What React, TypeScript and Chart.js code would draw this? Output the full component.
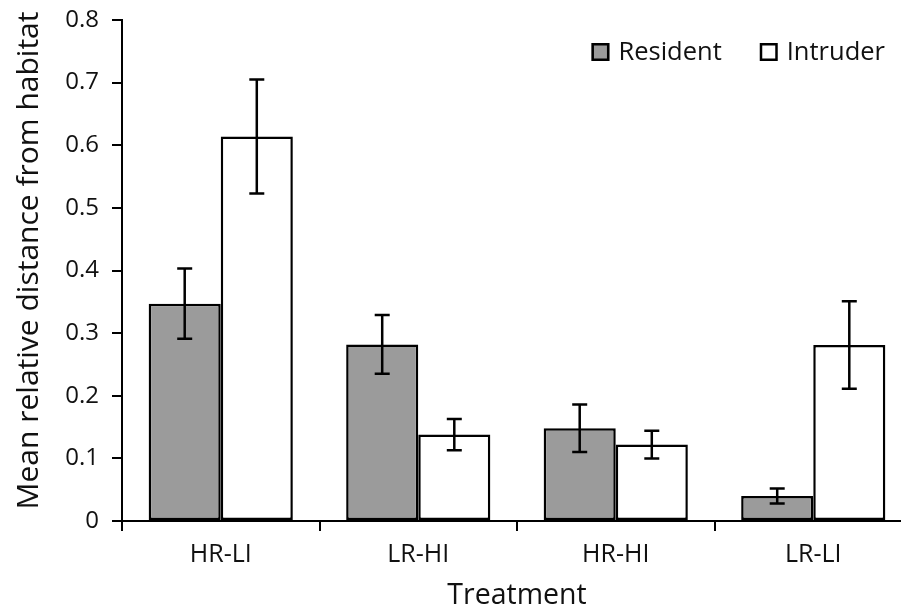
import React, { useEffect, useRef } from "react";
import { Chart, registerables } from "chart.js";

Chart.register(...registerables);

// Treatment groups along the x axis
const categories = ["HR-LI", "LR-HI", "HR-HI", "LR-LI"];

// Mean relative distance from habitat
const residentMeans = [0.347, 0.282, 0.148, 0.04];
const intruderMeans = [0.614, 0.138, 0.122, 0.281];

// Standard errors drawn as whiskers
const residentErrors = [0.056, 0.047, 0.038, 0.012];
const intruderErrors = [0.091, 0.025, 0.022, 0.07];

// Y axis range and step
const yMin = 0;
const yMax = 0.8;
const yStep = 0.1;

const yTitle = "Mean relative distance from habitat";
const xTitle = "Treatment";

const FONT = "'Open Sans', 'DejaVu Sans', sans-serif";
const TEXT = "#111111";

const errorBarPlugin = {
  id: "errorBars",
  afterDatasetsDraw(chart: any) {
    const { ctx } = chart;
    const yScale = chart.scales.y;
    chart.data.datasets.forEach((ds: any, di: number) => {
      const meta = chart.getDatasetMeta(di);
      const errs: number[] = ds.errors || [];
      meta.data.forEach((el: any, i: number) => {
        const v = ds.data[i];
        const e = errs[i];
        if (e == null) return;
        const x = el.x;
        const yTop = yScale.getPixelForValue(v + e);
        const yBot = yScale.getPixelForValue(v - e);
        const cap = 7.5;
        ctx.save();
        ctx.strokeStyle = "#000";
        ctx.lineWidth = 2.5;
        ctx.beginPath();
        ctx.moveTo(x, yTop);
        ctx.lineTo(x, yBot);
        ctx.moveTo(x - cap, yTop);
        ctx.lineTo(x + cap, yTop);
        ctx.moveTo(x - cap, yBot);
        ctx.lineTo(x + cap, yBot);
        ctx.stroke();
        ctx.restore();
      });
    });
  },
};

// Rotated y-axis title, placed a little above the plot's vertical centre
const yTitlePlugin = {
  id: "yTitle",
  afterDraw(chart: any) {
    const { ctx, chartArea } = chart;
    ctx.save();
    ctx.font = `30px ${FONT}`;
    ctx.fillStyle = TEXT;
    ctx.textAlign = "center";
    ctx.textBaseline = "middle";
    ctx.translate(29, (chartArea.top + chartArea.bottom) / 2 - 10);
    ctx.rotate(-Math.PI / 2);
    ctx.fillText(yTitle, 0, 0);
    ctx.restore();
  },
};

const legendPlugin = {
  id: "boxLegend",
  afterDraw(chart: any) {
    const { ctx, chartArea } = chart;
    const items = chart.data.datasets.map((ds: any) => ({
      label: ds.label,
      fill: ds.backgroundColor,
    }));
    ctx.save();
    ctx.font = `25.5px ${FONT}`;
    ctx.textBaseline = "middle";
    ctx.textAlign = "left";
    const box = 18;
    const gapBoxText = 9;
    const gapItems = 38;
    const widths = items.map(
      (it: any) => box + gapBoxText + ctx.measureText(it.label).width
    );
    const total =
      widths.reduce((a: number, b: number) => a + b, 0) +
      gapItems * (items.length - 1);
    let x = chartArea.right - 27 - total;
    const cy = chartArea.top + 32;
    items.forEach((it: any, i: number) => {
      ctx.fillStyle = it.fill;
      ctx.fillRect(x, cy - box / 2, box, box);
      ctx.strokeStyle = "#000";
      ctx.lineWidth = 2.5;
      ctx.strokeRect(x + 1.25, cy - box / 2 + 1.25, box - 2.5, box - 2.5);
      ctx.fillStyle = TEXT;
      ctx.fillText(it.label, x + box + gapBoxText, cy + 1);
      x += widths[i] + gapItems;
    });
    ctx.restore();
  },
};

export default function App() {
  const canvasRef = useRef<HTMLCanvasElement | null>(null);

  useEffect(() => {
    if (!canvasRef.current) return;
    const chart = new Chart(canvasRef.current, {
      type: "bar",
      data: {
        labels: categories,
        datasets: [
          {
            label: "Resident",
            data: residentMeans,
            errors: residentErrors,
            backgroundColor: "#9b9b9b",
            borderColor: "#000",
            borderWidth: 2.5,
            borderSkipped: false,
          } as any,
          {
            label: "Intruder",
            data: intruderMeans,
            errors: intruderErrors,
            backgroundColor: "#ffffff",
            borderColor: "#000",
            borderWidth: 2.5,
            borderSkipped: false,
          } as any,
        ],
      },
      options: {
        animation: false,
        responsive: false,
        devicePixelRatio: 1,
        layout: { padding: { left: 0, top: 20, right: 0, bottom: 0 } },
        datasets: {
          bar: { categoryPercentage: 0.73, barPercentage: 1 },
        },
        plugins: {
          legend: { display: false },
          tooltip: { enabled: false },
        },
        scales: {
          x: {
            grid: {
              display: true,
              drawOnChartArea: false,
              drawTicks: true,
              tickLength: 10,
              color: "#000",
              lineWidth: 2,
              offset: true,
            },
            border: { display: true, color: "#000", width: 2 },
            ticks: {
              color: TEXT,
              font: { family: FONT, size: 25 },
              padding: 9,
            },
            title: {
              display: true,
              text: xTitle,
              color: TEXT,
              font: { family: FONT, size: 28.5, lineHeight: 1 },
              padding: { top: 0, bottom: 2 },
            },
            afterFit(scale: any) {
              scale.height = 91;
            },
          },
          y: {
            min: yMin,
            max: yMax,
            grid: {
              display: true,
              drawOnChartArea: false,
              drawTicks: true,
              tickLength: 10,
              color: "#000",
              lineWidth: 2,
            },
            border: { display: true, color: "#000", width: 2 },
            ticks: {
              stepSize: yStep,
              color: TEXT,
              font: { family: FONT, size: 24 },
              padding: 13,
              callback: (v: any) => (Number(v) === 0 ? "0" : Number(v).toFixed(1)),
            },
            title: { display: false },
            afterFit(scale: any) {
              scale.width = 122;
              scale.paddingTop = 8;
              scale.paddingBottom = 8;
            },
          },
        },
      } as any,
      plugins: [errorBarPlugin, yTitlePlugin, legendPlugin],
    });
    return () => chart.destroy();
  }, []);

  return (
    <div
      style={{
        position: "fixed",
        left: 0,
        top: 0,
        width: 901,
        height: 612,
        overflow: "hidden",
        background: "#fff",
      }}
    >
      <canvas
        ref={canvasRef}
        width={912}
        height={612}
        style={{ width: 912, height: 612, display: "block" }}
      />
    </div>
  );
}
